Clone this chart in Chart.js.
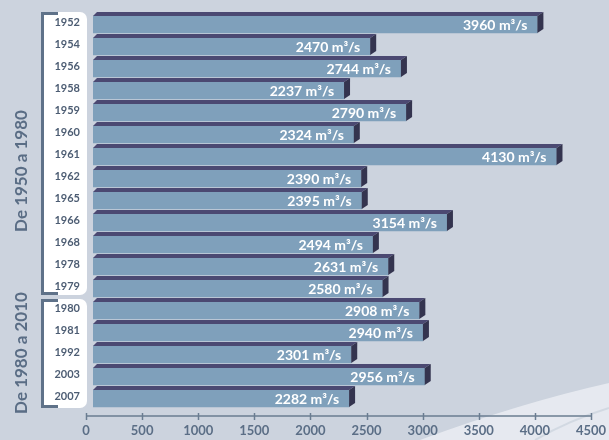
<!DOCTYPE html>
<html><head><meta charset="utf-8">
<script src="https://cdn.jsdelivr.net/npm/chart.js@4"></script>
<style>html,body{margin:0;padding:0;background:#ccd3de;overflow:hidden}</style>
</head><body>
<canvas id="c" width="609" height="440"></canvas>
<script>
// ---- data ----
const years = ['1952','1954','1956','1958','1959','1960','1961','1962','1965','1966','1968','1978','1979','1980','1981','1992','2003','2007'];
const flows = [3960,2470,2744,2237,2790,2324,4130,2390,2395,3154,2494,2631,2580,2908,2940,2301,2956,2282];
const groupLabels = ['De 1950 a 1980','De 1980 a 2010'];
const groupStarts = [0, 13];
const groupEnds = [12, 17];
const unitSuffix = ' m³/s';
const xMin = 0, xMax = 4500, xStep = 500;

// ---- styling ----
const FONT = 'Lato, "Open Sans", sans-serif';
const C_FRONT = '#7fa0bb', C_TOP = '#4b4972', C_SIDE = '#34344f';
const C_AXIS = '#5f7289';
const DEPTH_X = 6, DEPTH_Y = 4, SHIFT_X = 7, SHIFT_Y = 2;

const deco = {
  id: 'deco',
  beforeDraw(chart) {
    const {ctx, scales: {x, y}} = chart;
    const W = chart.width, H = chart.height;
    ctx.save();
    ctx.fillStyle = '#ccd3de';
    ctx.fillRect(0, 0, W, H);
    // light swoosh bottom-right
    ctx.fillStyle = 'rgba(236,239,244,0.8)';
    ctx.beginPath();
    ctx.moveTo(420, H);
    ctx.quadraticCurveTo(520, 403, W, 383);
    ctx.lineTo(W, H); ctx.closePath(); ctx.fill();
    ctx.strokeStyle = 'rgba(205,212,223,0.8)';
    ctx.lineWidth = 2;
    ctx.beginPath();
    ctx.moveTo(535, H);
    ctx.quadraticCurveTo(570, 420, W, 408);
    ctx.stroke();

    // group panels + brackets + labels
    const half = (y.getPixelForValue(1) - y.getPixelForValue(0)) / 2;
    const labelY = [171, 353];
    groupStarts.forEach((s, gi) => {
      const e = groupEnds[gi];
      const top = y.getPixelForValue(s) - half + (gi === 0 ? 0.5 : 1.5);
      const bot = y.getPixelForValue(e) + half - (gi === 0 ? 2.5 : -0.5);
      ctx.fillStyle = '#ffffff';
      ctx.beginPath();
      ctx.roundRect(43, top, 44, bot - top, [0, 7, 7, 0]);
      ctx.fill();
      ctx.fillStyle = C_AXIS;
      ctx.fillRect(41, top, 3, bot - top);
      ctx.fillRect(41, top, 17, 3);
      ctx.fillRect(41, bot - 3, 17, 3);
      ctx.save();
      ctx.translate(22, labelY[gi]);
      ctx.rotate(-Math.PI / 2);
      ctx.fillStyle = '#5a6d85';
      ctx.font = 'bold 17px ' + FONT;
      ctx.textAlign = 'center';
      ctx.textBaseline = 'middle';
      ctx.fillText(groupLabels[gi], 0, 0);
      ctx.restore();
    });

    // x axis line and tick marks
    const ay = 416;
    ctx.strokeStyle = '#6a7c91';
    ctx.lineWidth = 1.5;
    ctx.beginPath();
    ctx.moveTo(x.getPixelForValue(xMin), ay);
    ctx.lineTo(x.getPixelForValue(xMax), ay);
    ctx.stroke();
    x.ticks.forEach(t => {
      const px = Math.round(x.getPixelForValue(t.value)) + 0.5;
      ctx.beginPath();
      ctx.moveTo(px, ay - 3);
      ctx.lineTo(px, ay + 4);
      ctx.stroke();
    });
    ctx.restore();
  },
  beforeDatasetsDraw(chart) {
    chart.ctx.save();
    chart.ctx.translate(SHIFT_X, SHIFT_Y);
  },
  afterDatasetsDraw(chart) {
    const ctx = chart.ctx;
    const meta = chart.getDatasetMeta(0);
    meta.data.forEach((bar, i) => {
      const {x, y, base, height} = bar.getProps(['x', 'y', 'base', 'height'], true);
      const top = y - height / 2, bot = y + height / 2;
      ctx.fillStyle = C_TOP;
      ctx.beginPath();
      ctx.moveTo(base, top);
      ctx.lineTo(base + DEPTH_Y, top - DEPTH_Y);
      ctx.lineTo(x + DEPTH_X, top - DEPTH_Y);
      ctx.lineTo(x, top);
      ctx.closePath(); ctx.fill();
      ctx.fillStyle = C_SIDE;
      ctx.beginPath();
      ctx.moveTo(x, top);
      ctx.lineTo(x + DEPTH_X, top - DEPTH_Y);
      ctx.lineTo(x + DEPTH_X, bot - DEPTH_Y);
      ctx.lineTo(x, bot);
      ctx.closePath(); ctx.fill();
      ctx.fillStyle = '#ffffff';
      ctx.font = 'bold 14px ' + FONT;
      ctx.textAlign = 'right';
      ctx.textBaseline = 'middle';
      ctx.fillText(flows[i] + unitSuffix, x - 10, y + 0.5);
    });
    ctx.restore();
  }
};

new Chart(document.getElementById('c'), {
  type: 'bar',
  data: {
    labels: years,
    datasets: [{
      data: flows,
      backgroundColor: C_FRONT,
      borderWidth: 0,
      barThickness: 17
    }]
  },
  options: {
    indexAxis: 'y',
    responsive: false,
    devicePixelRatio: 1,
    animation: false,
    layout: {padding: {top: 11.5, right: 18, left: 0, bottom: 0}},
    plugins: {legend: {display: false}, tooltip: {enabled: false}},
    scales: {
      x: {
        min: xMin, max: xMax,
        ticks: {stepSize: xStep, color: '#5b6e86', font: {family: FONT, size: 13, weight: 'bold'}, padding: 16, maxRotation: 0,
                callback: (v) => String(v)},
        grid: {display: false, drawTicks: false},
        border: {display: false},
        afterFit(s) { s.height = 32.5; s.paddingLeft = 0; s.paddingRight = 0; }
      },
      y: {
        ticks: {color: '#4d5d73', font: {family: FONT, size: 11, weight: 'bold'}, padding: 6, autoSkip: false},
        grid: {display: false, drawTicks: false},
        border: {display: false},
        afterFit(s) { s.width = 86; s.paddingTop = 0; s.paddingBottom = 0; }
      }
    }
  },
  plugins: [deco]
});
</script>
</body></html>
